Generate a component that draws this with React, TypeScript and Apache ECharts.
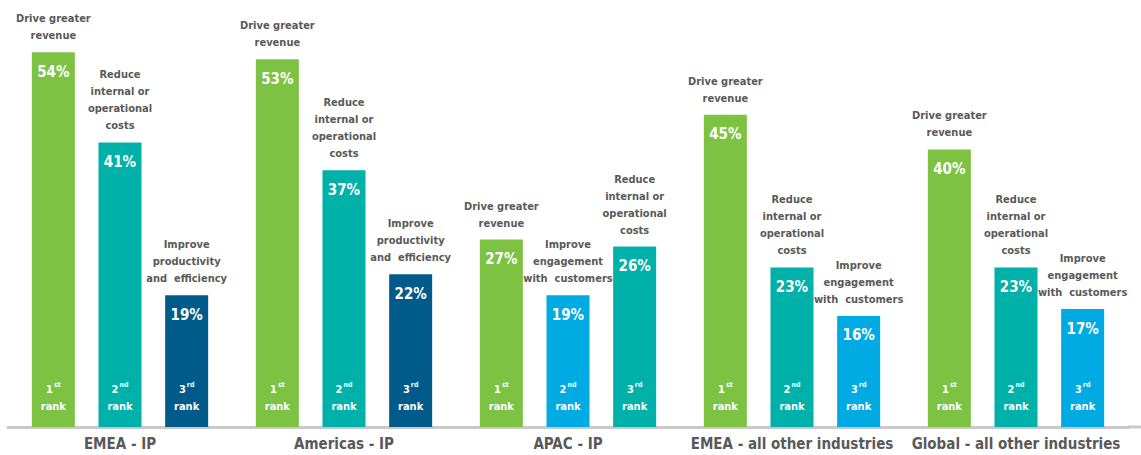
import React, { useEffect, useRef } from "react";
import * as echarts from "echarts";

const categories = [
  "EMEA - IP",
  "Americas - IP",
  "APAC - IP",
  "EMEA - all other industries",
  "Global - all other industries",
];

const firstRankValues = [54, 53, 27, 45, 40];
const secondRankValues = [41, 37, 19, 23, 23];
const thirdRankValues = [19, 22, 26, 16, 17];

const firstRankDrivers = [
  "Drive greater revenue",
  "Drive greater revenue",
  "Drive greater revenue",
  "Drive greater revenue",
  "Drive greater revenue",
];
const secondRankDrivers = [
  "Reduce internal or operational costs",
  "Reduce internal or operational costs",
  "Improve engagement with customers",
  "Reduce internal or operational costs",
  "Reduce internal or operational costs",
];
const thirdRankDrivers = [
  "Improve productivity and efficiency",
  "Improve productivity and efficiency",
  "Reduce internal or operational costs",
  "Improve engagement with customers",
  "Improve engagement with customers",
];

const rankNumbers = ["1", "2", "3"];
const rankSuffixes = ["st", "nd", "rd"];

// presentation: line breaks and colours per driver
const driverLines: Record<string, string> = {
  "Drive greater revenue": "Drive greater\nrevenue",
  "Reduce internal or operational costs": "Reduce\ninternal or\noperational\ncosts",
  "Improve productivity and efficiency": "Improve\nproductivity\nand  efficiency",
  "Improve engagement with customers": "Improve\nengagement\nwith  customers",
};
const driverColors: Record<string, string> = {
  "Drive greater revenue": "#7dc242",
  "Reduce internal or operational costs": "#00b1a9",
  "Improve productivity and efficiency": "#005b8a",
  "Improve engagement with customers": "#00aae2",
};

const FONT = "'DejaVu Sans Condensed', 'Liberation Sans Narrow', sans-serif";
const GRAY = "#595959";
const BAR_W = 43;
const BAR_GAP = "55%";

const rankValues = [firstRankValues, secondRankValues, thirdRankValues];
const rankDrivers = [firstRankDrivers, secondRankDrivers, thirdRankDrivers];

export default function App() {
  const ref = useRef<HTMLDivElement>(null);
  useEffect(() => {
    document.body.style.margin = "0";
    if (!ref.current) return;
    const chart = echarts.init(ref.current, undefined, { renderer: "svg" });

    const barSeries = rankValues.map((vals, r) => ({
      type: "bar",
      name: `rank${r + 1}`,
      xAxisIndex: 0,
      barWidth: BAR_W,
      barGap: BAR_GAP,
      data: vals.map((v, i) => ({
        value: v,
        itemStyle: { color: driverColors[rankDrivers[r][i]] },
      })),
      label: {
        show: true,
        position: "insideTop",
        distance: 12,
        formatter: "{c}%",
        color: "#ffffff",
        fontFamily: FONT,
        fontWeight: "bold",
        fontSize: 15,
      },
    }));

    const descSeries = rankValues.map((vals, r) => ({
      type: "bar",
      name: `desc${r + 1}`,
      xAxisIndex: 1,
      barWidth: BAR_W,
      barGap: BAR_GAP,
      silent: true,
      itemStyle: { color: "transparent" },
      data: vals.map((v, i) => ({
        value: v,
        label: { formatter: driverLines[rankDrivers[r][i]] },
      })),
      label: {
        show: true,
        position: "top",
        distance: 8,
        color: GRAY,
        fontFamily: FONT,
        fontWeight: "bold",
        fontSize: 11,
        lineHeight: 17,
        align: "center",
      },
    }));

    const rankSeries = rankValues.map((vals, r) => ({
      type: "bar",
      name: `rank-label${r + 1}`,
      xAxisIndex: 2,
      barWidth: BAR_W,
      barGap: BAR_GAP,
      silent: true,
      itemStyle: { color: "transparent" },
      data: vals,
      label: {
        show: true,
        position: "insideBottom",
        distance: 12,
        formatter: `{n|${rankNumbers[r]}}{s|${rankSuffixes[r]}}\n{t|rank}`,
        rich: {
          n: { color: "#fff", fontFamily: FONT, fontWeight: "bold", fontSize: 11, lineHeight: 17 },
          s: { color: "#fff", fontFamily: FONT, fontWeight: "bold", fontSize: 7, verticalAlign: "top", padding: [0, 0, 6, 1] },
          t: { color: "#fff", fontFamily: FONT, fontWeight: "bold", fontSize: 11, lineHeight: 17 },
        },
      },
    }));

    const hiddenAxis = {
      type: "category",
      data: categories,
      show: false,
    };

    chart.setOption({
      animation: false,
      grid: { left: 8, width: 1120, top: 10.6, bottom: 28, containLabel: false },
      xAxis: [
        {
          type: "category",
          data: categories,
          axisLine: { show: true, lineStyle: { color: "#c9c9c9", width: 3 } },
          axisTick: { show: false },
          axisLabel: {
            interval: 0,
            color: GRAY,
            fontFamily: FONT,
            fontWeight: "bold",
            fontSize: 15,
            margin: 9,
          },
        },
        hiddenAxis,
        hiddenAxis,
      ],
      yAxis: { type: "value", min: 0, max: 60, show: false },
      graphic: [
        {
          type: "line",
          shape: { x1: 1128, y1: 427, x2: 1141, y2: 427 },
          style: { stroke: "#c9c9c9", lineWidth: 3 },
          silent: true,
        },
      ],
      series: [...barSeries, ...descSeries, ...rankSeries],
    });
    return () => chart.dispose();
  }, []);
  return <div ref={ref} style={{ width: 1141, height: 455 }} />;
}
